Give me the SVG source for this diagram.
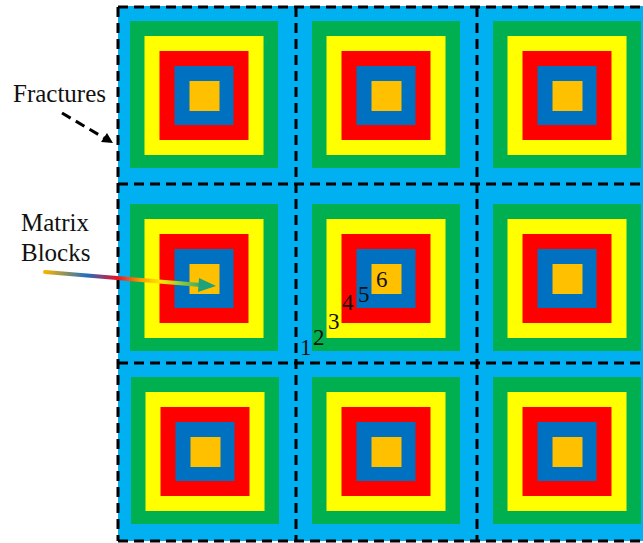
<svg xmlns="http://www.w3.org/2000/svg" xmlns:xlink="http://www.w3.org/1999/xlink" width="643" height="543" viewBox="0 0 643 543">
<style>
.frac{stroke:#000;stroke-width:3;stroke-dasharray:10 6;fill:none}
.lbl{font-family:"Liberation Serif","Times New Roman",serif;font-size:25px;fill:#111}
.num{font-family:"Liberation Serif","Times New Roman",serif;font-size:23px;fill:#111}
</style>
<defs>
<g id="block">
<rect x="-74" y="-74" width="148" height="147" fill="#00B050"/>
<rect x="-59.5" y="-59" width="119" height="119" fill="#FFFF00"/>
<rect x="-44.5" y="-44" width="89" height="89" fill="#FF0000"/>
<rect x="-29.5" y="-29" width="59" height="59" fill="#0070C0"/>
<rect x="-14.5" y="-14" width="30" height="30" fill="#FFC000"/>
</g>
<linearGradient id="grad" gradientUnits="userSpaceOnUse" x1="45" y1="272" x2="205" y2="285">
<stop offset="0" stop-color="#F5B400"/>
<stop offset="0.26" stop-color="#1F6FC0"/>
<stop offset="0.45" stop-color="#E8102A"/>
<stop offset="0.6" stop-color="#FF9A00"/>
<stop offset="0.72" stop-color="#FFE800"/>
<stop offset="1" stop-color="#1FA27A"/>
</linearGradient>
</defs>
<rect id="background" x="118" y="6" width="525" height="535" fill="#00B0F0"/>
<g id="block-r1c1"><use xlink:href="#block" x="204" y="95"/></g>
<g id="block-r1c2"><use xlink:href="#block" x="386" y="95"/></g>
<g id="block-r1c3"><use xlink:href="#block" x="567" y="95"/></g>
<g id="block-r2c1"><use xlink:href="#block" x="204" y="278"/></g>
<g id="block-r2c2"><use xlink:href="#block" x="386" y="278"/></g>
<g id="block-r2c3"><use xlink:href="#block" x="567" y="278"/></g>
<g id="block-r3c1"><use xlink:href="#block" x="205" y="451"/></g>
<g id="block-r3c2"><use xlink:href="#block" x="386" y="451"/></g>
<g id="block-r3c3"><use xlink:href="#block" x="567" y="451"/></g>
<g id="fractures">
<line class="frac" x1="118" y1="7" x2="643" y2="7"/>
<line class="frac" x1="118" y1="184" x2="643" y2="184"/>
<line class="frac" x1="118" y1="363" x2="643" y2="363"/>
<line class="frac" x1="118" y1="541" x2="643" y2="541"/>
<line class="frac" x1="118" y1="7" x2="118" y2="541"/>
<line class="frac" x1="296" y1="7" x2="296" y2="541"/>
<line class="frac" x1="477" y1="7" x2="477" y2="541"/>
</g>
<g id="connectors">
<line x1="62" y1="113" x2="106" y2="139" stroke="#000" stroke-width="3" stroke-dasharray="10 6"/>
<polygon points="113,143 101,142 107,133" fill="#000"/>
<line x1="45" y1="272" x2="201" y2="285" stroke="url(#grad)" stroke-width="4" stroke-linecap="round"/>
<polygon points="216,286 199,278 198,292" fill="#1FA27A"/>
</g>
<g id="labels">
<text class="lbl" x="13" y="102">Fractures</text>
<text class="lbl" x="21" y="231">Matrix</text>
<text class="lbl" x="21" y="261">Blocks</text>
<text class="num" x="300" y="355">1</text>
<text class="num" x="313" y="345">2</text>
<text class="num" x="328" y="329">3</text>
<text class="num" x="342" y="310">4</text>
<text class="num" x="358" y="302">5</text>
<text class="num" x="376" y="287">6</text>
</g>
</svg>
